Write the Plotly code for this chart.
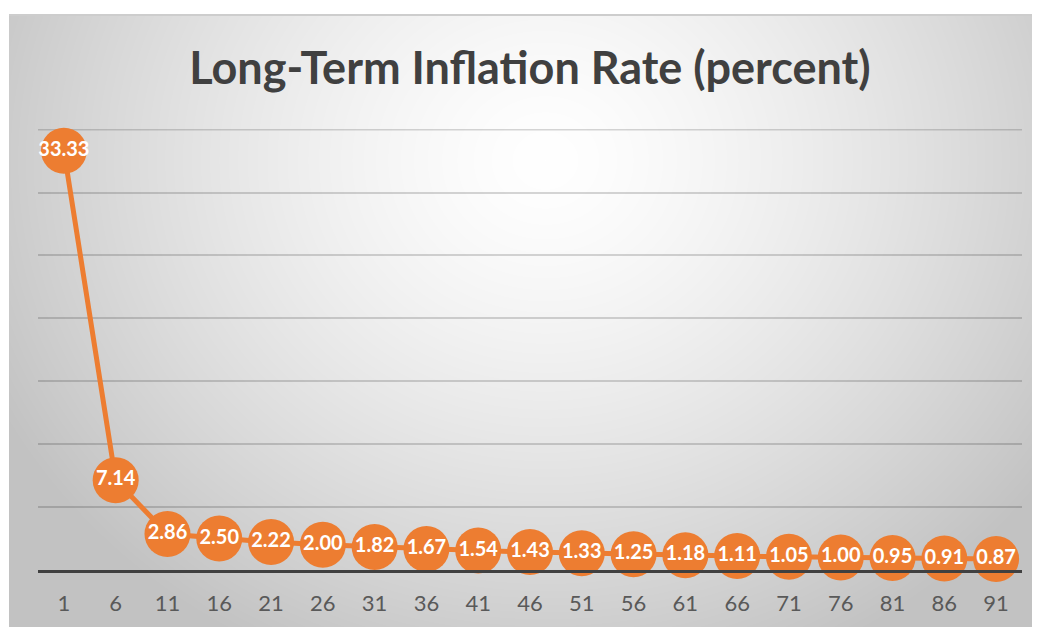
import base64
import struct
import zlib

import numpy as np
import plotly.graph_objects as go

# ---- data ----
periods = ["1", "6", "11", "16", "21", "26", "31", "36", "41", "46",
           "51", "56", "61", "66", "71", "76", "81", "86", "91"]
inflation = [33.33, 7.14, 2.86, 2.50, 2.22, 2.00, 1.82, 1.67, 1.54, 1.43,
             1.33, 1.25, 1.18, 1.11, 1.05, 1.00, 0.95, 0.91, 0.87]
title_text = "Long-Term Inflation Rate (percent)"

# ---- layout geometry (pixels, page coords; page has 8px body margin) ----
OFF = 8
WIN_W, WIN_H = 1040, 627
W, H = WIN_W - OFF, WIN_H - OFF
# target plot area in window coords: x 38..1022, y 129..570
L = 38 - OFF
R = WIN_W - 1022
T = 129 - OFF
B = WIN_H - 570
PW, PH = W - L - R, H - T - B
BG_X0, BG_Y0 = 9 - OFF, 14 - OFF   # figure coords of background start


def gradient_png(w, h):
    ys, xs = np.mgrid[0:h, 0:w].astype(float)
    xs += BG_X0 + OFF
    ys += BG_Y0 + OFF
    dx = (xs - 545) / 580.0
    dy = (ys - 160) / 520.0
    r = np.sqrt(dx * dx + dy * dy)
    val = 255 - 56 * np.power(r, 1.4)
    val = np.clip(val, 194, 255)
    val[0:2, :] = 205
    img = val.astype(np.uint8)
    raw = b"".join(b"\x00" + img[i].tobytes() for i in range(h))

    def chunk(tag, data):
        c = struct.pack(">I", len(data)) + tag + data
        return c + struct.pack(">I", zlib.crc32(tag + data) & 0xffffffff)

    png = b"\x89PNG\r\n\x1a\n"
    png += chunk(b"IHDR", struct.pack(">IIBBBBB", w, h, 8, 0, 0, 0, 0))
    png += chunk(b"IDAT", zlib.compress(raw, 9))
    png += chunk(b"IEND", b"")
    return "data:image/png;base64," + base64.b64encode(png).decode()


bg_w, bg_h = W - BG_X0, H - BG_Y0
bg_src = gradient_png(bg_w, bg_h)

orange = "#ED7D31"
grid_color = "rgba(0,0,0,0.16)"
y_max = 35
y_top = 35.05

fig = go.Figure()
fig.add_trace(go.Scatter(
    x=periods,
    y=inflation,
    mode="lines+markers+text",
    line=dict(color=orange, width=5),
    marker=dict(color=orange, size=46, line=dict(width=0)),
    texttemplate="%{y:.2f}",
    textposition="middle center",
    textfont=dict(family="Lato", size=20, color="white", weight="bold"),
    cliponaxis=False,
    hoverinfo="x+y",
))

# top gridline (plotly drops the one at the range edge)
fig.add_shape(type="line", xref="paper", yref="y",
              x0=0, x1=1, y0=y_max, y1=y_max,
              line=dict(color=grid_color, width=1.5), layer="below")

fig.update_layout(
    width=W,
    height=H,
    margin=dict(l=L, r=R, t=T, b=B, pad=0),
    paper_bgcolor="white",
    plot_bgcolor="rgba(0,0,0,0)",
    showlegend=False,
    title=dict(
        text=title_text,
        font=dict(family="Lato", size=45, color="#404040", weight="bold"),
        x=0.5, xref="paper", xanchor="center",
        y=1 - (68 - OFF) / H, yref="container", yanchor="middle",
    ),
    images=[dict(
        source=bg_src,
        xref="paper", yref="paper",
        x=(BG_X0 - L) / PW, y=(H - B - BG_Y0) / PH,
        sizex=bg_w / PW, sizey=bg_h / PH,
        xanchor="left", yanchor="top",
        sizing="stretch", layer="below",
    )],
    xaxis=dict(
        type="category",
        range=[-0.5, len(periods) - 0.5],
        showgrid=False,
        zeroline=False,
        showline=True,
        linecolor="#404040",
        linewidth=3,
        ticks="",
        ticklabelstandoff=12,
        tickfont=dict(family="Lato", size=22, color="#595959"),
    ),
    yaxis=dict(
        range=[0, y_top],
        tick0=0,
        dtick=5,
        showgrid=True,
        gridcolor=grid_color,
        gridwidth=1.5,
        zeroline=False,
        showticklabels=False,
        ticks="",
    ),
)

fig.write_html("out.html")
